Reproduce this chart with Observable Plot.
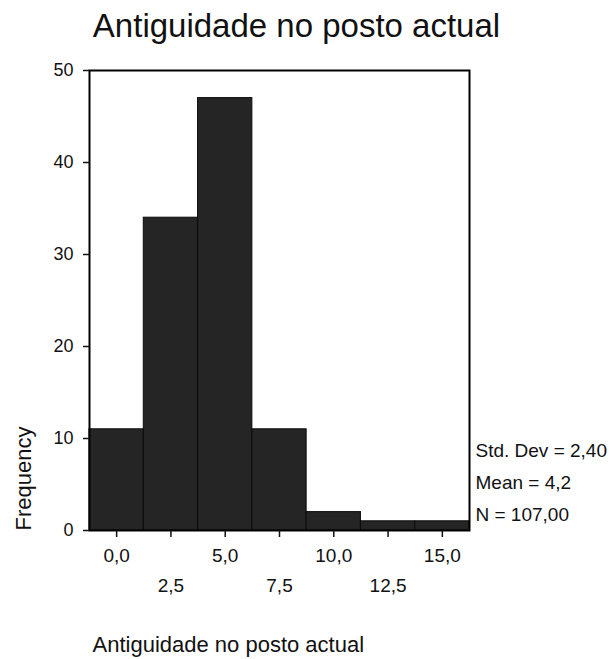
<!DOCTYPE html>
<html>
<head>
<meta charset="utf-8">
<script src="https://cdn.jsdelivr.net/npm/d3@7"></script>
<script src="https://cdn.jsdelivr.net/npm/@observablehq/plot@0.6"></script>
<style>
  html, body { margin: 0; padding: 0; background: #fff; }
  #chart svg { display: block; }
</style>
</head>
<body>
<div id="chart"></div>
<script>
// ---- data ----
const binCenters = [0, 2.5, 5, 7.5, 10, 12.5, 15];
const frequencies = [11, 34, 47, 11, 2, 1, 1];
const binWidth = 2.5;
const xTicksUpper = [0, 5, 10, 15];
const xTicksLower = [2.5, 7.5, 12.5];
const yTicks = [0, 10, 20, 30, 40, 50];
const titleText = "Antiguidade no posto actual";
const xLabel = "Antiguidade no posto actual";
const yLabel = "Frequency";
const statsLines = ["Std. Dev = 2,40", "Mean = 4,2", "N = 107,00"];

const bins = binCenters.map((c, i) => ({x1: c - binWidth / 2, x2: c + binWidth / 2, count: frequencies[i]}));
const fmt = d => d.toFixed(1).replace(".", ",");
const font = "'Liberation Sans', Arial, sans-serif";

const chart = Plot.plot({
  width: 612,
  height: 659,
  marginLeft: 89,
  marginRight: 143,
  marginTop: 70,
  marginBottom: 129,
  style: {fontFamily: font, background: "#fff", color: "#111"},
  x: {domain: [binCenters[0] - binWidth / 2, binCenters[binCenters.length - 1] + binWidth / 2]},
  y: {domain: [0, 50]},
  marks: [
    Plot.rectY(bins, {x1: "x1", x2: "x2", y: "count", fill: "#252525", stroke: "#0a0a0a", strokeWidth: 1}),
    Plot.frame({stroke: "#000", strokeWidth: 2}),
    Plot.axisY({ticks: yTicks, tickSize: 6, tickPadding: 10, fontSize: 18, label: null, strokeWidth: 1.5}),
    Plot.axisX({ticks: [...xTicksUpper, ...xTicksLower], tickSize: 7, tickFormat: () => "", label: null, strokeWidth: 1.5}),
    Plot.axisX({ticks: xTicksUpper, tickSize: 0, tickPadding: 18, tickFormat: fmt, fontSize: 19, label: null}),
    Plot.axisX({ticks: xTicksLower, tickSize: 0, tickPadding: 48, tickFormat: fmt, fontSize: 19, label: null}),
    Plot.text([titleText], {frameAnchor: "top", dx: 17, dy: -34, lineAnchor: "bottom", fontSize: 33, fill: "#111"}),
    Plot.text([statsLines.join("\n")], {frameAnchor: "bottom-right", textAnchor: "start", lineAnchor: "bottom", dx: 6, dy: -10, fontSize: 19, lineHeight: 1.66, fill: "#111"}),
    Plot.text([yLabel], {frameAnchor: "bottom-left", rotate: -90, textAnchor: "middle", lineAnchor: "bottom", dx: -59, dy: -52, fontSize: 22, fill: "#111"}),
    Plot.text([xLabel], {frameAnchor: "bottom-left", textAnchor: "start", lineAnchor: "bottom", dx: 3, dy: 121, fontSize: 22, fill: "#111"})
  ]
});
document.getElementById("chart").appendChild(chart);
</script>
</body>
</html>
